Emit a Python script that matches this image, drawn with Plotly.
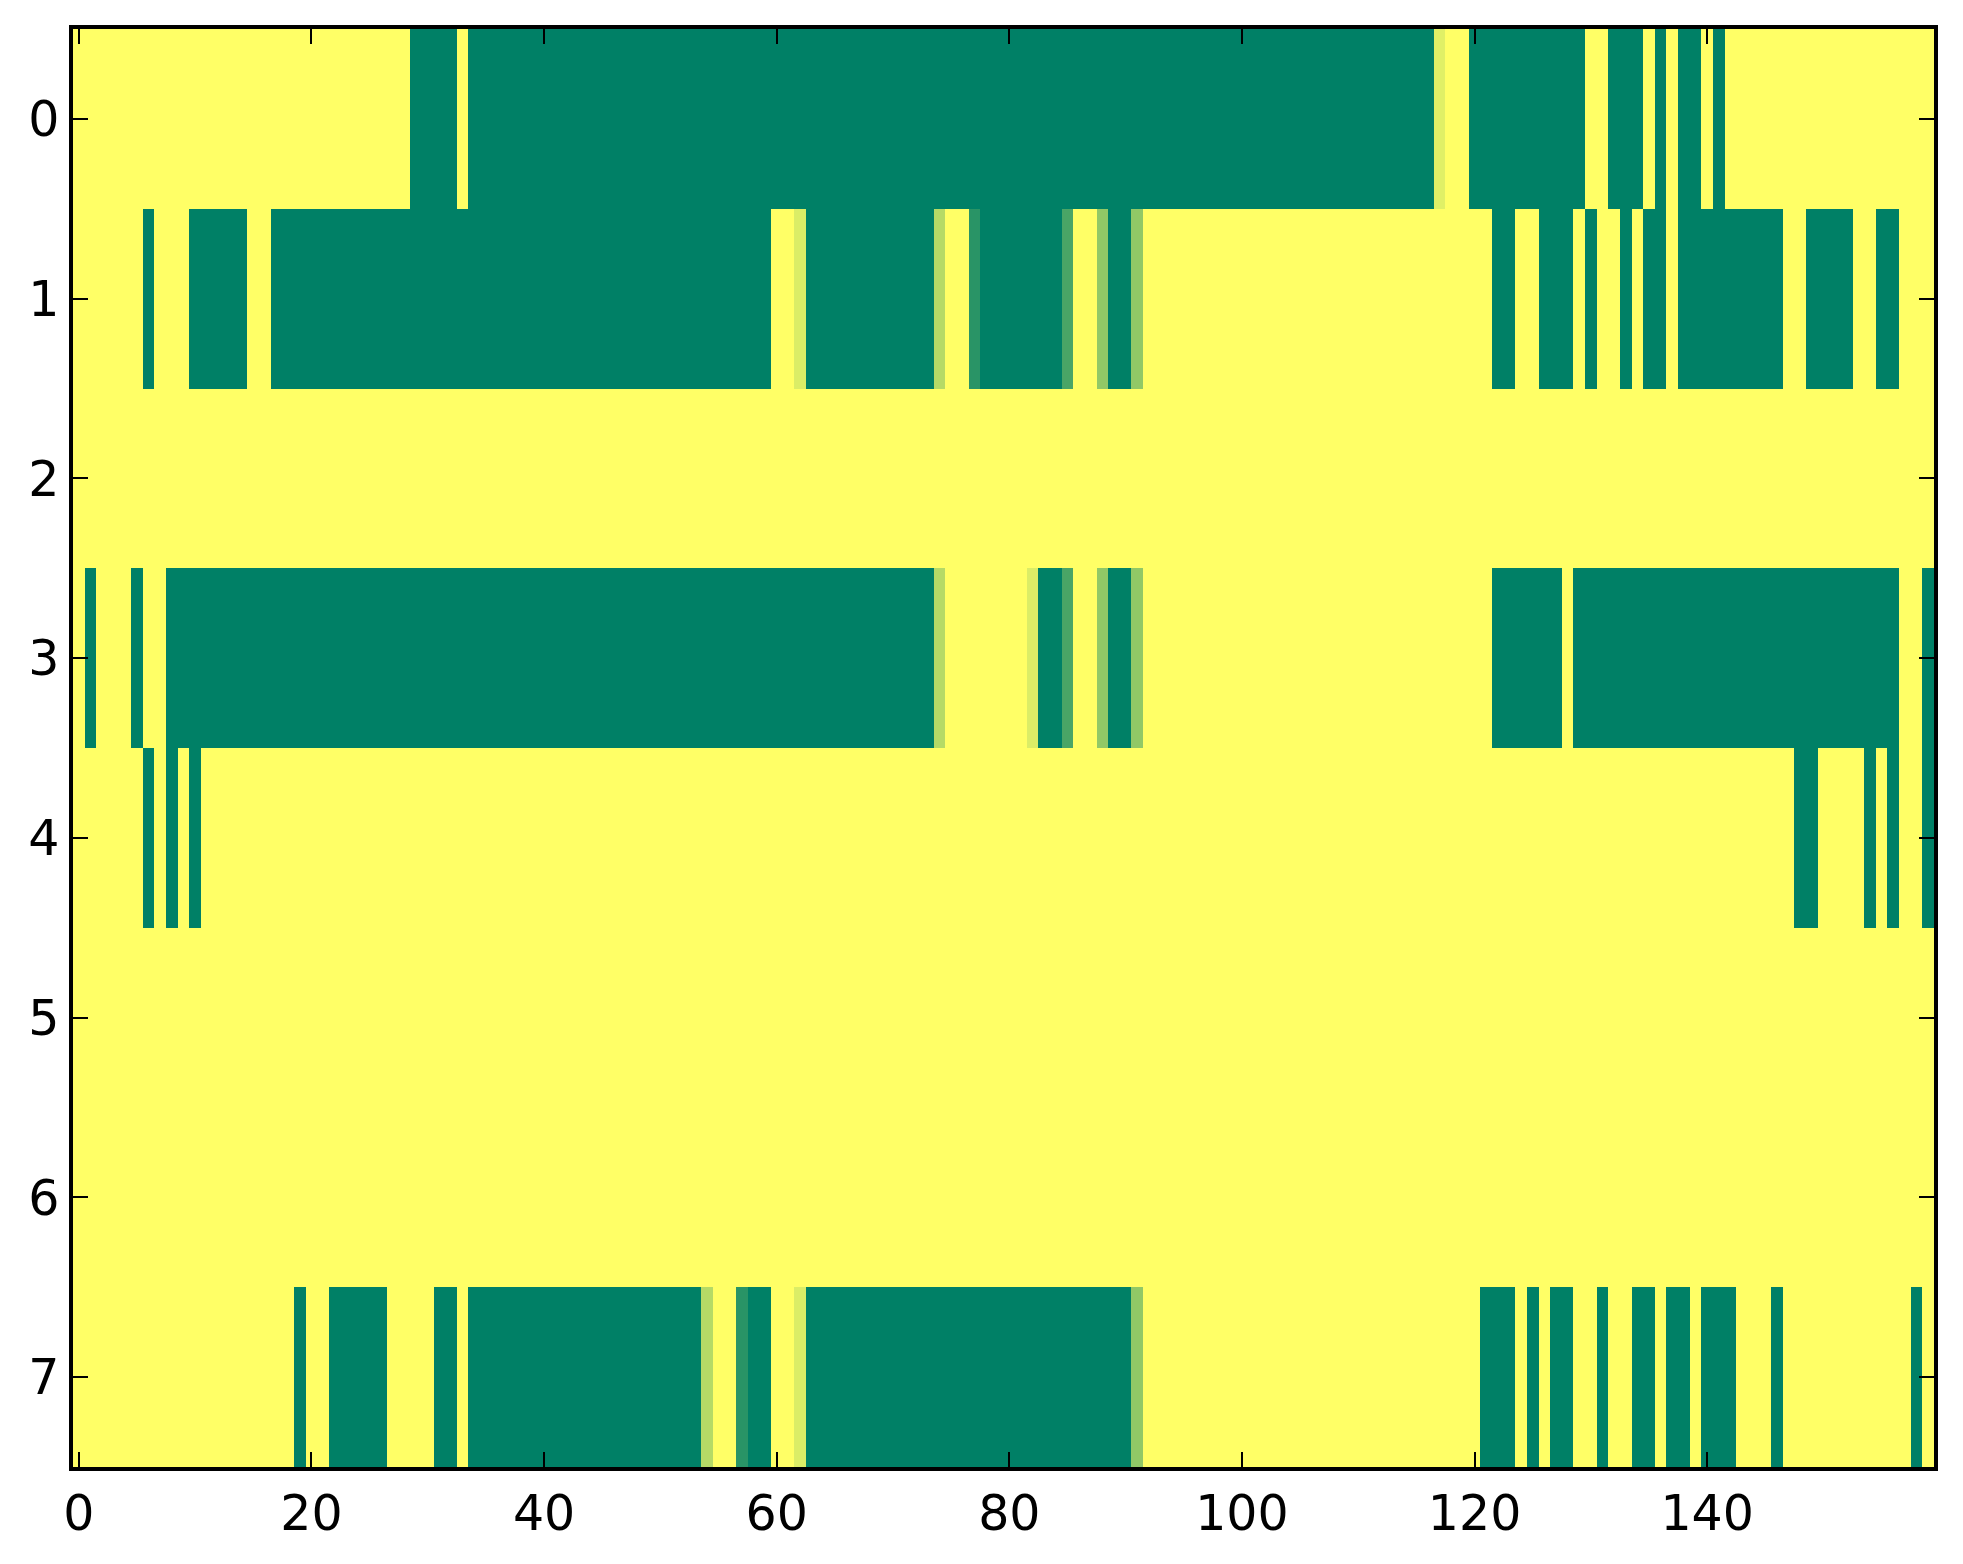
import plotly.graph_objects as go

# Row labels (y) and column indices (x)
rows = [0, 1, 2, 3, 4, 5, 6, 7]
cols = list(range(160))

x_ticks = [0, 20, 40, 60, 80, 100, 120, 140]
y_ticks = [0, 1, 2, 3, 4, 5, 6, 7]

row0 = ([0, 0, 0, 0, 0, 0, 0, 0, 0, 0, 0, 0, 0, 0, 0, 0, 0, 0, 0, 0] +
        [0, 0, 0, 0, 0, 0, 0, 0, 0, 1, 1, 1, 1, 0, 1, 1, 1, 1, 1, 1] +
        [1, 1, 1, 1, 1, 1, 1, 1, 1, 1, 1, 1, 1, 1, 1, 1, 1, 1, 1, 1] +
        [1, 1, 1, 1, 1, 1, 1, 1, 1, 1, 1, 1, 1, 1, 1, 1, 1, 1, 1, 1] +
        [1, 1, 1, 1, 1, 1, 1, 1, 1, 1, 1, 1, 1, 1, 1, 1, 1, 1, 1, 1] +
        [1, 1, 1, 1, 1, 1, 1, 1, 1, 1, 1, 1, 1, 1, 1, 1, 1, 0.12, 0, 0] +
        [1, 1, 1, 1, 1, 1, 1, 1, 1, 1, 0, 0, 1, 1, 1, 0, 1, 0, 1, 1] +
        [0, 1, 0, 0, 0, 0, 0, 0, 0, 0, 0, 0, 0, 0, 0, 0, 0, 0, 0, 0])

row1 = ([0, 0, 0, 0, 0, 0, 1, 0, 0, 0, 1, 1, 1, 1, 1, 0, 0, 1, 1, 1] +
        [1, 1, 1, 1, 1, 1, 1, 1, 1, 1, 1, 1, 1, 1, 1, 1, 1, 1, 1, 1] +
        [1, 1, 1, 1, 1, 1, 1, 1, 1, 1, 1, 1, 1, 1, 1, 1, 1, 1, 1, 1] +
        [0, 0, 0.14, 1, 1, 1, 1, 1, 1, 1, 1, 1, 1, 1, 0.29, 0, 0, 0.84, 1, 1] +
        [1, 1, 1, 1, 1, 0.71, 0, 0, 0.43, 1, 1, 0.43, 0, 0, 0, 0, 0, 0, 0, 0] +
        [0, 0, 0, 0, 0, 0, 0, 0, 0, 0, 0, 0, 0, 0, 0, 0, 0, 0, 0, 0] +
        [0, 0, 1, 1, 0, 0, 1, 1, 1, 0, 1, 0, 0, 1, 0, 1, 1, 0, 1, 1] +
        [1, 1, 1, 1, 1, 1, 1, 0, 0, 1, 1, 1, 1, 0, 0, 1, 1, 0, 0, 0])

row2 = ([0, 0, 0, 0, 0, 0, 0, 0, 0, 0, 0, 0, 0, 0, 0, 0, 0, 0, 0, 0] +
        [0, 0, 0, 0, 0, 0, 0, 0, 0, 0, 0, 0, 0, 0, 0, 0, 0, 0, 0, 0] +
        [0, 0, 0, 0, 0, 0, 0, 0, 0, 0, 0, 0, 0, 0, 0, 0, 0, 0, 0, 0] +
        [0, 0, 0, 0, 0, 0, 0, 0, 0, 0, 0, 0, 0, 0, 0, 0, 0, 0, 0, 0] +
        [0, 0, 0, 0, 0, 0, 0, 0, 0, 0, 0, 0, 0, 0, 0, 0, 0, 0, 0, 0] +
        [0, 0, 0, 0, 0, 0, 0, 0, 0, 0, 0, 0, 0, 0, 0, 0, 0, 0, 0, 0] +
        [0, 0, 0, 0, 0, 0, 0, 0, 0, 0, 0, 0, 0, 0, 0, 0, 0, 0, 0, 0] +
        [0, 0, 0, 0, 0, 0, 0, 0, 0, 0, 0, 0, 0, 0, 0, 0, 0, 0, 0, 0])

row3 = ([0, 1, 0, 0, 0, 1, 0, 0, 1, 1, 1, 1, 1, 1, 1, 1, 1, 1, 1, 1] +
        [1, 1, 1, 1, 1, 1, 1, 1, 1, 1, 1, 1, 1, 1, 1, 1, 1, 1, 1, 1] +
        [1, 1, 1, 1, 1, 1, 1, 1, 1, 1, 1, 1, 1, 1, 1, 1, 1, 1, 1, 1] +
        [1, 1, 1, 1, 1, 1, 1, 1, 1, 1, 1, 1, 1, 1, 0.29, 0, 0, 0, 0, 0] +
        [0, 0, 0.14, 1, 1, 0.71, 0, 0, 0.43, 1, 1, 0.43, 0, 0, 0, 0, 0, 0, 0, 0] +
        [0, 0, 0, 0, 0, 0, 0, 0, 0, 0, 0, 0, 0, 0, 0, 0, 0, 0, 0, 0] +
        [0, 0, 1, 1, 1, 1, 1, 1, 0, 1, 1, 1, 1, 1, 1, 1, 1, 1, 1, 1] +
        [1, 1, 1, 1, 1, 1, 1, 1, 1, 1, 1, 1, 1, 1, 1, 1, 1, 0, 0, 1])

row4 = ([0, 0, 0, 0, 0, 0, 1, 0, 1, 0, 1, 0, 0, 0, 0, 0, 0, 0, 0, 0] +
        [0, 0, 0, 0, 0, 0, 0, 0, 0, 0, 0, 0, 0, 0, 0, 0, 0, 0, 0, 0] +
        [0, 0, 0, 0, 0, 0, 0, 0, 0, 0, 0, 0, 0, 0, 0, 0, 0, 0, 0, 0] +
        [0, 0, 0, 0, 0, 0, 0, 0, 0, 0, 0, 0, 0, 0, 0, 0, 0, 0, 0, 0] +
        [0, 0, 0, 0, 0, 0, 0, 0, 0, 0, 0, 0, 0, 0, 0, 0, 0, 0, 0, 0] +
        [0, 0, 0, 0, 0, 0, 0, 0, 0, 0, 0, 0, 0, 0, 0, 0, 0, 0, 0, 0] +
        [0, 0, 0, 0, 0, 0, 0, 0, 0, 0, 0, 0, 0, 0, 0, 0, 0, 0, 0, 0] +
        [0, 0, 0, 0, 0, 0, 0, 0, 1, 1, 0, 0, 0, 0, 1, 0, 1, 0, 0, 1])

row5 = ([0, 0, 0, 0, 0, 0, 0, 0, 0, 0, 0, 0, 0, 0, 0, 0, 0, 0, 0, 0] +
        [0, 0, 0, 0, 0, 0, 0, 0, 0, 0, 0, 0, 0, 0, 0, 0, 0, 0, 0, 0] +
        [0, 0, 0, 0, 0, 0, 0, 0, 0, 0, 0, 0, 0, 0, 0, 0, 0, 0, 0, 0] +
        [0, 0, 0, 0, 0, 0, 0, 0, 0, 0, 0, 0, 0, 0, 0, 0, 0, 0, 0, 0] +
        [0, 0, 0, 0, 0, 0, 0, 0, 0, 0, 0, 0, 0, 0, 0, 0, 0, 0, 0, 0] +
        [0, 0, 0, 0, 0, 0, 0, 0, 0, 0, 0, 0, 0, 0, 0, 0, 0, 0, 0, 0] +
        [0, 0, 0, 0, 0, 0, 0, 0, 0, 0, 0, 0, 0, 0, 0, 0, 0, 0, 0, 0] +
        [0, 0, 0, 0, 0, 0, 0, 0, 0, 0, 0, 0, 0, 0, 0, 0, 0, 0, 0, 0])

row6 = ([0, 0, 0, 0, 0, 0, 0, 0, 0, 0, 0, 0, 0, 0, 0, 0, 0, 0, 0, 0] +
        [0, 0, 0, 0, 0, 0, 0, 0, 0, 0, 0, 0, 0, 0, 0, 0, 0, 0, 0, 0] +
        [0, 0, 0, 0, 0, 0, 0, 0, 0, 0, 0, 0, 0, 0, 0, 0, 0, 0, 0, 0] +
        [0, 0, 0, 0, 0, 0, 0, 0, 0, 0, 0, 0, 0, 0, 0, 0, 0, 0, 0, 0] +
        [0, 0, 0, 0, 0, 0, 0, 0, 0, 0, 0, 0, 0, 0, 0, 0, 0, 0, 0, 0] +
        [0, 0, 0, 0, 0, 0, 0, 0, 0, 0, 0, 0, 0, 0, 0, 0, 0, 0, 0, 0] +
        [0, 0, 0, 0, 0, 0, 0, 0, 0, 0, 0, 0, 0, 0, 0, 0, 0, 0, 0, 0] +
        [0, 0, 0, 0, 0, 0, 0, 0, 0, 0, 0, 0, 0, 0, 0, 0, 0, 0, 0, 0])

row7 = ([0, 0, 0, 0, 0, 0, 0, 0, 0, 0, 0, 0, 0, 0, 0, 0, 0, 0, 0, 1] +
        [0, 0, 1, 1, 1, 1, 1, 0, 0, 0, 0, 1, 1, 0, 1, 1, 1, 1, 1, 1] +
        [1, 1, 1, 1, 1, 1, 1, 1, 1, 1, 1, 1, 1, 1, 0.29, 0, 0, 0.84, 1, 1] +
        [0, 0, 0.14, 1, 1, 1, 1, 1, 1, 1, 1, 1, 1, 1, 1, 1, 1, 1, 1, 1] +
        [1, 1, 1, 1, 1, 1, 1, 1, 1, 1, 1, 0.43, 0, 0, 0, 0, 0, 0, 0, 0] +
        [0, 0, 0, 0, 0, 0, 0, 0, 0, 0, 0, 0, 0, 0, 0, 0, 0, 0, 0, 0] +
        [0, 1, 1, 1, 0, 1, 0, 1, 1, 0, 0, 1, 0, 0, 1, 1, 0, 1, 1, 0] +
        [1, 1, 1, 0, 0, 0, 1, 0, 0, 0, 0, 0, 0, 0, 0, 0, 0, 0, 1, 0])

z = [row0, row1, row2, row3, row4, row5, row6, row7]

# matplotlib "summer_r" colormap (linear from yellow to green)
summer_r = [[0.0, "rgb(255,255,102)"], [1.0, "rgb(0,128,102)"]]

fig = go.Figure(go.Heatmap(
    z=z, x=cols, y=rows,
    colorscale=summer_r, zmin=0, zmax=1,
    showscale=False, hoverinfo="skip",
))

axis_common = dict(
    showgrid=False, zeroline=False,
    showline=True, linecolor="black", linewidth=3.5,
    mirror="ticks", ticks="inside", ticklen=15, tickwidth=1.5, tickcolor="black",
    tickfont=dict(family="DejaVu Sans", size=49, color="black"),
)

fig.update_xaxes(range=[-0.5, 159.5], tickvals=x_ticks,
                 ticktext=[str(v) for v in x_ticks], ticklabelstandoff=0,
                 **axis_common)
fig.update_yaxes(range=[7.5, -0.5], tickvals=y_ticks,
                 ticktext=[str(v) for v in y_ticks], ticklabelstandoff=0,
                 **axis_common)

fig.update_layout(
    width=1963, height=1564, autosize=False,
    margin=dict(l=73, r=29, t=29, b=97),
    paper_bgcolor="white", plot_bgcolor="white",
)

fig.write_html("out.html", config={"displayModeBar": False},
               post_script="document.body.style.margin='0px';")
